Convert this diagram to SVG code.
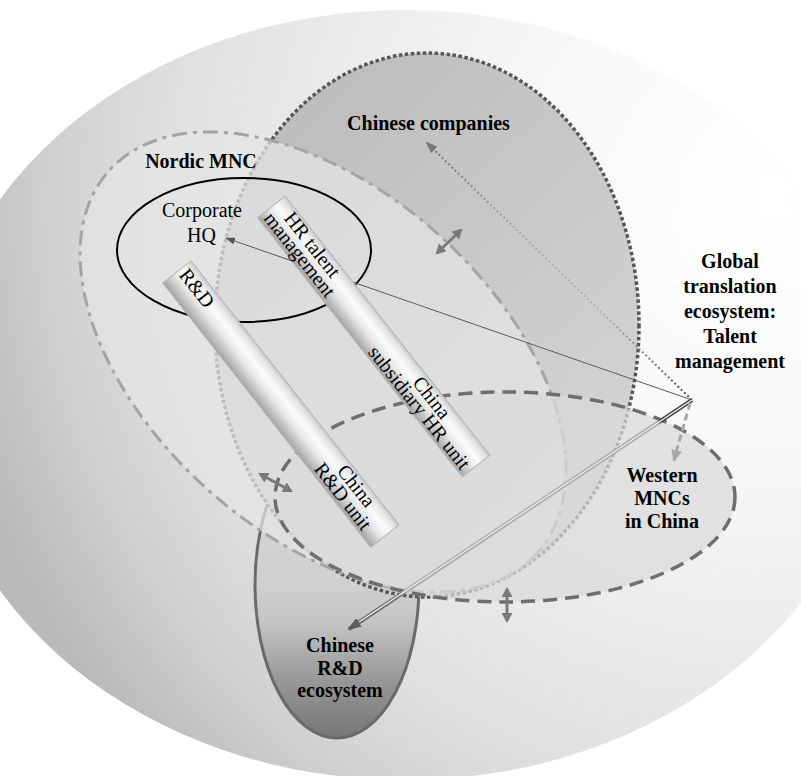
<svg xmlns="http://www.w3.org/2000/svg" width="801" height="776" viewBox="0 0 801 776">
<defs>
  <radialGradient id="bgGrad" gradientUnits="userSpaceOnUse" cx="760" cy="200" r="820" fx="770" fy="200">
    <stop offset="0" stop-color="#ffffff"/>
    <stop offset="0.3" stop-color="#f8f8f8"/>
    <stop offset="0.5" stop-color="#eeeeee"/>
    <stop offset="0.72" stop-color="#e0e0e0"/>
    <stop offset="0.87" stop-color="#d0d0d0"/>
    <stop offset="1" stop-color="#bababa"/>
  </radialGradient>
  <linearGradient id="ccGrad" gradientUnits="userSpaceOnUse" x1="300" y1="60" x2="640" y2="420">
    <stop offset="0" stop-color="#bcbcbc"/>
    <stop offset="1" stop-color="#d3d3d3"/>
  </linearGradient>
  <linearGradient id="rdGrad" x1="0" y1="0" x2="0" y2="1">
    <stop offset="0" stop-color="#d6d6d6"/>
    <stop offset="0.5" stop-color="#d0d0d0"/>
    <stop offset="0.62" stop-color="#c4c4c4"/>
    <stop offset="0.8" stop-color="#9a9a9a"/>
    <stop offset="1" stop-color="#767676"/>
  </linearGradient>
  <linearGradient id="barGrad" x1="0" y1="0" x2="0" y2="1">
    <stop offset="0" stop-color="#c8c8c8"/>
    <stop offset="0.12" stop-color="#e4e4e4"/>
    <stop offset="0.35" stop-color="#fbfbfb"/>
    <stop offset="0.6" stop-color="#e8e8e8"/>
    <stop offset="0.85" stop-color="#bdbdbd"/>
    <stop offset="1" stop-color="#a4a4a4"/>
  </linearGradient>
  <linearGradient id="railGrad" gradientUnits="userSpaceOnUse" x1="692" y1="400" x2="347" y2="630">
    <stop offset="0" stop-color="#404040"/>
    <stop offset="0.09" stop-color="#404040"/>
    <stop offset="0.1" stop-color="#a4a4a4"/>
    <stop offset="0.83" stop-color="#a4a4a4"/>
    <stop offset="0.85" stop-color="#707070"/>
    <stop offset="1" stop-color="#606060"/>
  </linearGradient>
  <linearGradient id="dotGrad" gradientUnits="userSpaceOnUse" x1="692" y1="400" x2="427" y2="143">
    <stop offset="0" stop-color="#505050"/>
    <stop offset="0.35" stop-color="#b4b4b4"/>
    <stop offset="0.65" stop-color="#a8a8a8"/>
    <stop offset="1" stop-color="#707070"/>
  </linearGradient>
  <marker id="mHQ" markerUnits="userSpaceOnUse" viewBox="0 0 10 7" refX="9" refY="3.5" markerWidth="10" markerHeight="7" orient="auto">
    <path d="M0,0 L10,3.5 L0,7 z" fill="#555555"/>
  </marker>
  <marker id="mDot" markerUnits="userSpaceOnUse" viewBox="0 0 12 9" refX="10" refY="4.5" markerWidth="12" markerHeight="9" orient="auto">
    <path d="M0,0 L12,4.5 L0,9 z" fill="#777777"/>
  </marker>
  <marker id="mRail" markerUnits="userSpaceOnUse" viewBox="0 0 14 10" refX="12" refY="5" markerWidth="14" markerHeight="10" orient="auto">
    <path d="M0,0 L14,5 L0,10 z" fill="#5c5c5c"/>
  </marker>
  <marker id="mWest" markerUnits="userSpaceOnUse" viewBox="0 0 12 11" refX="10" refY="5.5" markerWidth="12" markerHeight="11" orient="auto">
    <path d="M0,0 L12,5.5 L0,11 z" fill="#a8a8a8"/>
  </marker>
  <marker id="mBi" markerUnits="userSpaceOnUse" viewBox="0 0 10 11" refX="8" refY="5.5" markerWidth="10" markerHeight="11" orient="auto-start-reverse">
    <path d="M0,0 L10,5.5 L0,11 z" fill="#7a7a7a"/>
  </marker>
</defs>
<style>
  .lbl{font-family:"Liberation Serif","Times New Roman",serif;font-size:20px;fill:#000}
  .b{font-weight:bold}
  .bar{fill:url(#barGrad);stroke:#b4b4b4;stroke-width:1}
  .bi{stroke:#7a7a7a;stroke-width:3;fill:none;marker-start:url(#mBi);marker-end:url(#mBi)}
</style>
<rect width="801" height="776" fill="#ffffff"/>
<g id="background">
  <ellipse cx="405" cy="395" rx="470" ry="385" fill="url(#bgGrad)"/>
</g>
<g id="chinese-rd-ecosystem">
  <ellipse cx="337" cy="585" rx="82" ry="153" fill="url(#rdGrad)" stroke="#6a6a6a" stroke-width="3"/>
  <text class="lbl b" text-anchor="middle"><tspan x="340" y="652">Chinese</tspan><tspan x="340" y="675">R&amp;D</tspan><tspan x="340" y="697">ecosystem</tspan></text>
</g>
<g id="chinese-companies">
  <ellipse cx="427" cy="325" rx="212" ry="272" fill="url(#ccGrad)" stroke="#565656" stroke-width="3.5" stroke-dasharray="3.5 2.5"/>
  <text class="lbl b" x="428.5" y="130" text-anchor="middle">Chinese companies</text>
</g>
<g id="nordic-mnc">
  <ellipse cx="323" cy="362" rx="287" ry="172" transform="rotate(41.7 323 362)" fill="#e4e4e4" fill-opacity="0.72" stroke="#a4a4a4" stroke-width="3" stroke-dasharray="15 6 4 6"/>
  <text class="lbl b" x="201" y="168" text-anchor="middle">Nordic MNC</text>
</g>
<g id="western-mncs">
  <ellipse cx="505" cy="497" rx="230" ry="105" fill="#d9d9d9" fill-opacity="0.72" stroke="#6e6e6e" stroke-width="3.5" stroke-dasharray="14 8"/>
  <text class="lbl b" text-anchor="middle"><tspan x="662" y="482">Western</tspan><tspan x="662" y="505">MNCs</tspan><tspan x="662" y="528">in China</tspan></text>
</g>
<g id="corporate-hq">
  <ellipse cx="244" cy="250" rx="127" ry="72" fill="none" stroke="#000000" stroke-width="2"/>
  <text class="lbl" text-anchor="middle"><tspan x="202" y="217">Corporate</tspan><tspan x="201.5" y="242">HQ</tspan></text>
</g>
<g id="connectors" fill="none">
  <line x1="692" y1="400" x2="226" y2="238" stroke="#5a5a5a" stroke-width="1" marker-end="url(#mHQ)"/>
  <line x1="692" y1="400" x2="427" y2="143" stroke="url(#dotGrad)" stroke-width="2" stroke-dasharray="2 2.5" marker-end="url(#mDot)"/>
  <line x1="692" y1="400" x2="349" y2="629" stroke="url(#railGrad)" stroke-width="4" marker-end="url(#mRail)"/>
  <line x1="692" y1="400" x2="359" y2="622" stroke="#f2f2f2" stroke-width="1.3"/>
  <line x1="690" y1="403" x2="674" y2="460" stroke="#a8a8a8" stroke-width="3" stroke-dasharray="7 4" marker-end="url(#mWest)"/>
  <line x1="437" y1="253" x2="461" y2="230" class="bi"/>
  <line x1="260" y1="474" x2="291" y2="491" class="bi"/>
  <line x1="507" y1="589" x2="507" y2="621" class="bi"/>
</g>
<g id="hr-unit" transform="translate(271.5 207) rotate(51.7)">
  <rect x="0" y="-17.5" width="330" height="35" class="bar"/>
  <text class="lbl" text-anchor="middle"><tspan x="55" y="-2">HR talent</tspan><tspan x="55" y="14">management</tspan></text>
  <text class="lbl" text-anchor="middle"><tspan x="249" y="-1">China</tspan><tspan x="249" y="15">subsidiary HR unit</tspan></text>
</g>
<g id="rd-unit" transform="translate(177 272) rotate(51.8)">
  <rect x="0" y="-18" width="336" height="36" class="bar"/>
  <text class="lbl" x="25" y="1" text-anchor="middle">R&amp;D</text>
  <text class="lbl" text-anchor="middle"><tspan x="279" y="-2">China</tspan><tspan x="279" y="15">R&amp;D unit</tspan></text>
</g>
<g id="global-ecosystem">
  <text class="lbl b" text-anchor="middle"><tspan x="730" y="268">Global</tspan><tspan x="730" y="293">translation</tspan><tspan x="730" y="318">ecosystem:</tspan><tspan x="730" y="343">Talent</tspan><tspan x="730" y="368">management</tspan></text>
</g>
</svg>
